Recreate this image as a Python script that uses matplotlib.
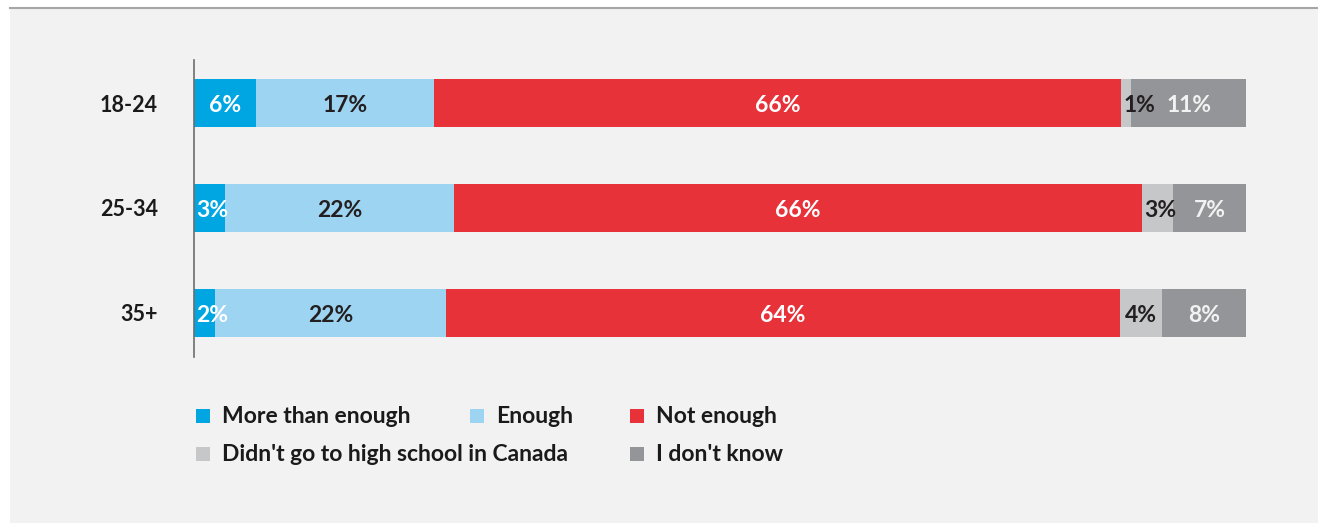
import numpy as np
import matplotlib.pyplot as plt
from matplotlib.patches import Rectangle
from matplotlib.lines import Line2D

plt.rcParams['font.family'] = ['Lato', 'DejaVu Sans']

# datos de la encuesta por grupo de edad
grupos = ['18-24', '25-34', '35+']
categorias = ['More than enough', 'Enough', 'Not enough',
              "Didn't go to high school in Canada", "I don't know"]
valores = {
    'More than enough': [6, 3, 2],
    'Enough': [17, 22, 22],
    'Not enough': [66, 66, 64],
    "Didn't go to high school in Canada": [1, 3, 4],
    "I don't know": [11, 7, 8],
}

colores = ['#00a6e2', '#9dd4f2', '#e8323a', '#c6c7c9', '#949598']
coloresTexto = ['white', '#231f20', 'white', '#231f20', '#f2f2f2']
fondo = '#f2f2f2'

W, H = 1318, 523
fig = plt.figure(figsize=(W / 100, H / 100), dpi=100, facecolor='white')

# panel gris y linea superior
fig.add_artist(Rectangle((10 / W, 0), 1 - 10 / W, 1 - 8 / H, transform=fig.transFigure,
                         facecolor=fondo, edgecolor='none', zorder=0))
fig.add_artist(Line2D([10 / W, 1], [1 - 7.5 / H, 1 - 7.5 / H], transform=fig.transFigure,
                      color='#a6a6a6', lw=1.5, zorder=1))

ax = fig.add_axes([194 / W, 1 - 357 / H, 1052 / W, 297 / H])
ax.set_facecolor('none')

tabla = np.array([valores[c] for c in categorias], dtype=float)
totales = tabla.sum(axis=0)
y = np.arange(len(grupos))
izquierda = np.zeros(len(grupos))

for i, cat in enumerate(categorias):
    anchos = tabla[i] / totales * 100
    ax.barh(y, anchos, left=izquierda, height=0.46, color=colores[i], edgecolor='none')
    for j in range(len(grupos)):
        # los segmentos estrechos llevan la etiqueta pegada a su inicio
        if anchos[j] < 3.5:
            xt, alin = izquierda[j] + 0.2, 'left'
        else:
            xt, alin = izquierda[j] + anchos[j] / 2, 'center'
        ax.text(xt, y[j] + 0.02, f'{int(tabla[i][j])}%',
                ha=alin, va='center', fontsize=16.5, fontweight='bold',
                color=coloresTexto[i])
    izquierda += anchos

ax.set_xlim(0, 100)
ax.set_ylim(2.42, -0.41)
ax.set_yticks(y)
ax.set_yticklabels(grupos, fontsize=15.5, fontweight='bold', color='#1a1a1a')
ax.tick_params(axis='y', length=0, pad=26)
ax.set_xticks([])
for lado in ['top', 'right', 'bottom']:
    ax.spines[lado].set_visible(False)
ax.spines['left'].set_color('#6d6d6d')
ax.spines['left'].set_linewidth(1.2)

# leyenda hecha a mano en una rejilla de 3 columnas (x izquierda, y base en pixeles)
posLeyenda = [(196, 423), (470, 423), (630, 423), (196, 461), (630, 461)]
for i, cat in enumerate(categorias):
    px, py = posLeyenda[i]
    fig.add_artist(Rectangle((px / W, 1 - py / H), 14 / W, 14 / H,
                             transform=fig.transFigure, facecolor=colores[i],
                             edgecolor='none'))
    fig.text((px + 26) / W, 1 - py / H, cat, ha='left', va='baseline',
             fontsize=16.5, fontweight='bold', color='#1a1a1a')

fig.savefig('out.png', dpi=100, facecolor=fig.get_facecolor())
